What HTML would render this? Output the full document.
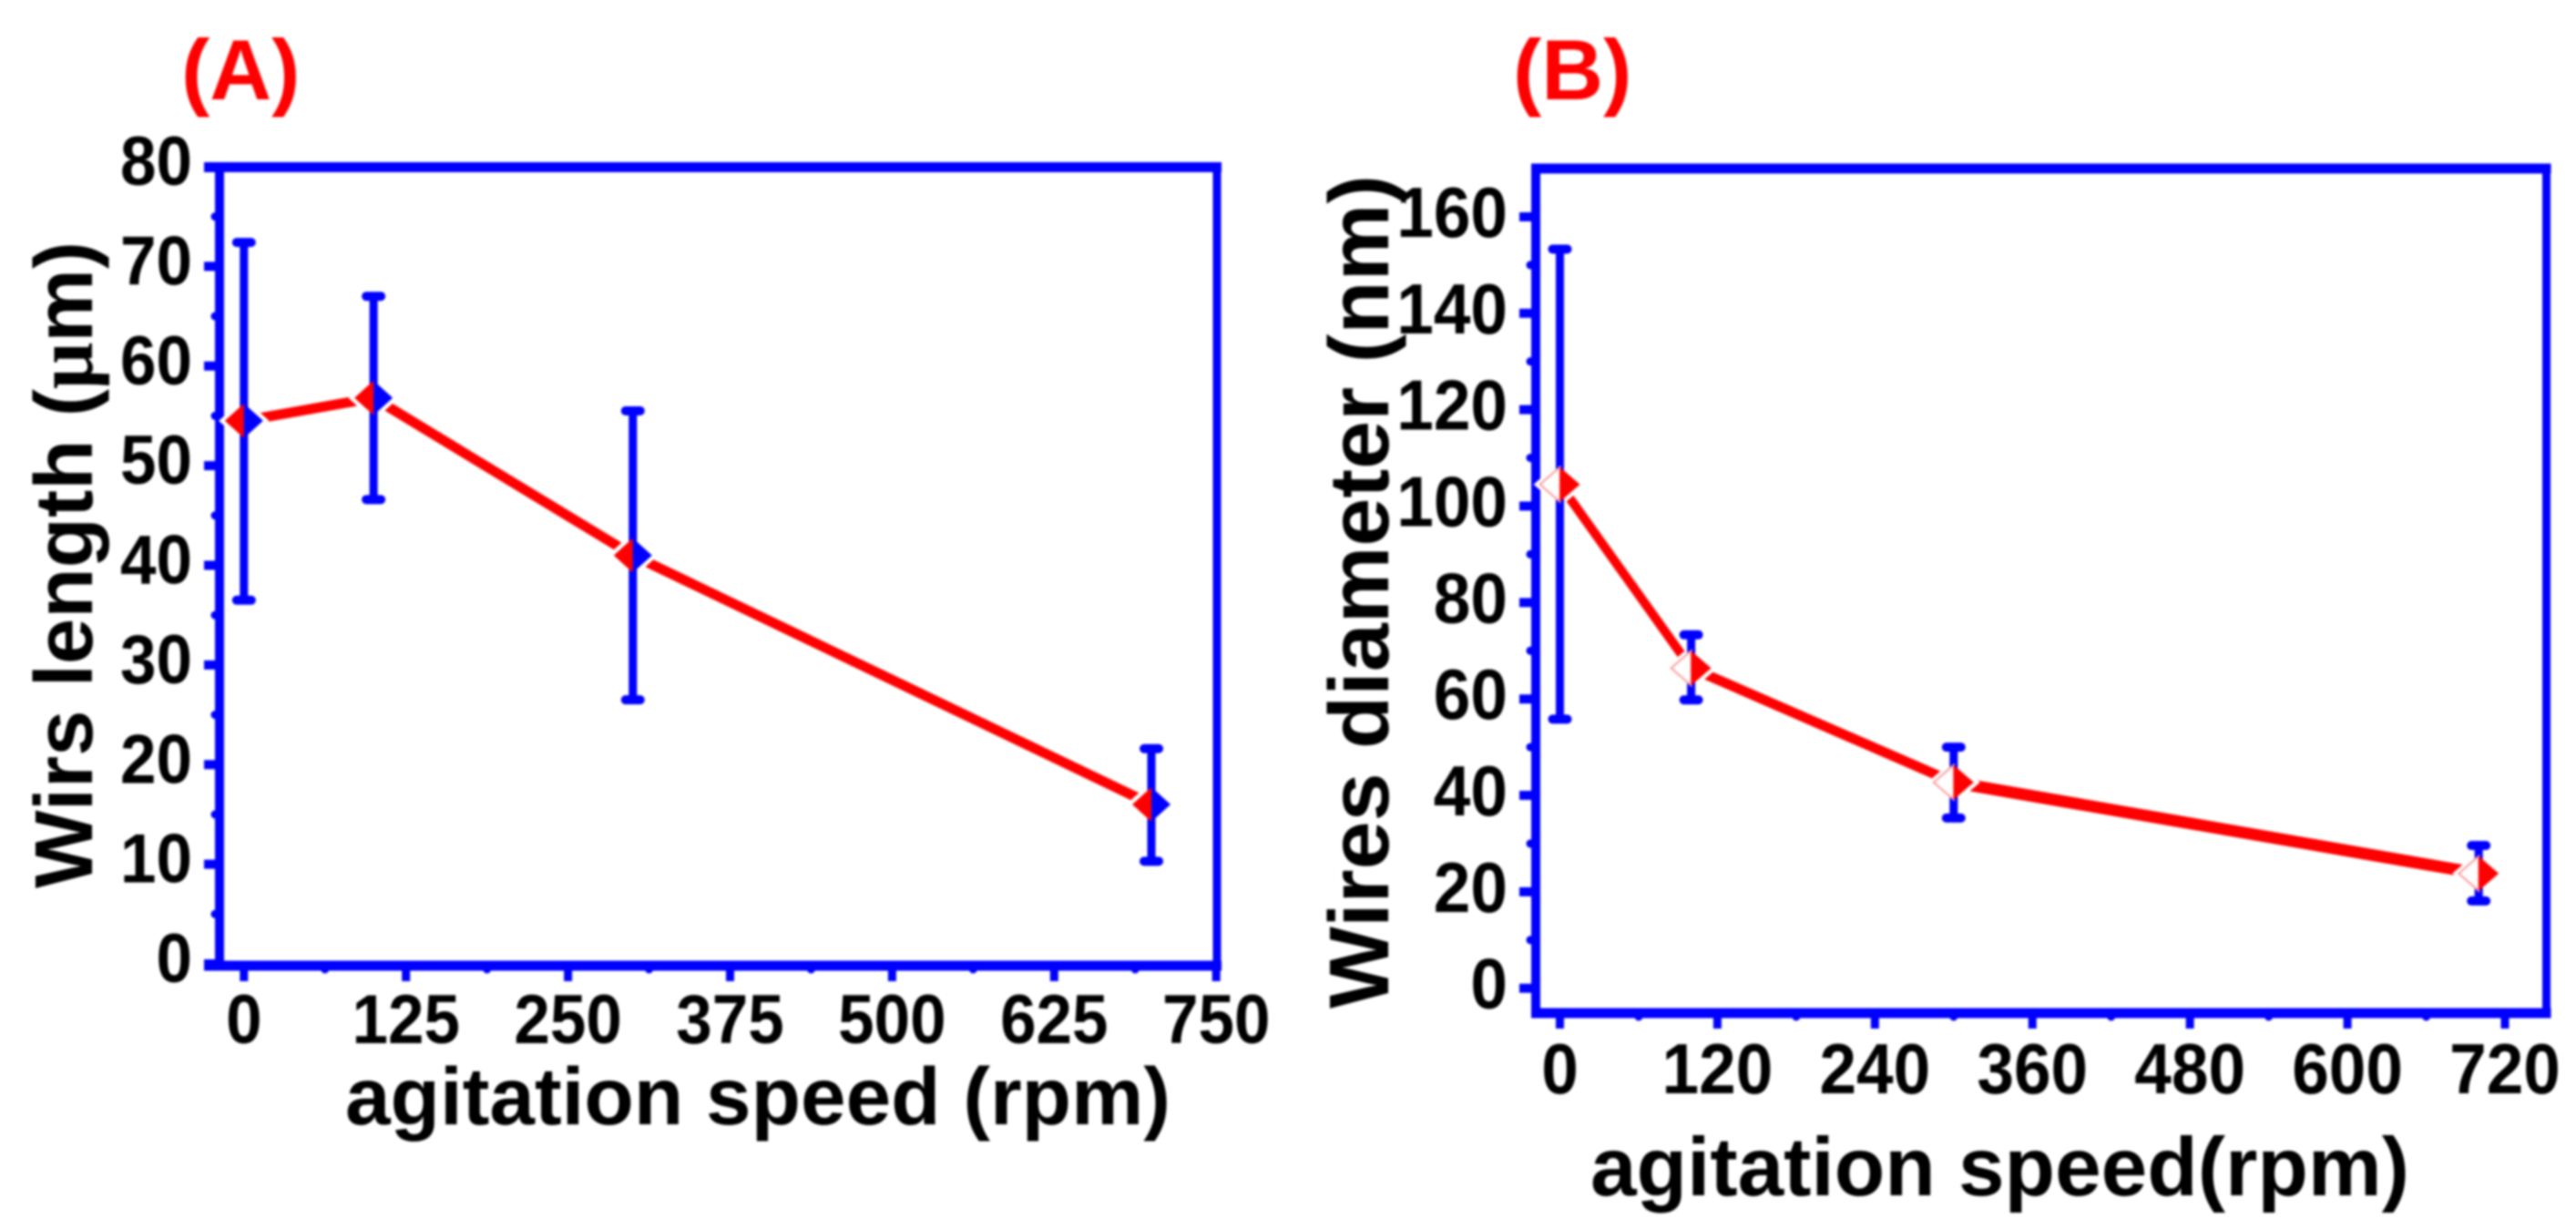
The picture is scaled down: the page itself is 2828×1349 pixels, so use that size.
<!DOCTYPE html>
<html lang="en">
<head>
<meta charset="utf-8">
<title>Wire length and diameter versus agitation speed</title>
<style>
html,body{margin:0;padding:0;background:#fff;}
svg{display:block;filter:blur(1.2px);}
text{font-family:"Liberation Sans",Arial,sans-serif;font-weight:bold;fill:#000;}
.panel-title{fill:#f00;font-size:94px;}
</style>
</head>
<body>
<svg id="figure" xmlns="http://www.w3.org/2000/svg" width="2828" height="1349" viewBox="0 0 2828 1349">
  <rect x="0" y="0" width="2828" height="1349" fill="#fff"/>
  <text class="panel-title" x="199" y="109">(A)</text>
  <text class="panel-title" x="1661" y="109">(B)</text>
  <text x="0" y="0" transform="translate(101,975) rotate(-90)" font-size="90" textLength="710" lengthAdjust="spacingAndGlyphs">Wirs length (<tspan font-family="Liberation Serif">μ</tspan>m)</text>
  <text x="379" y="1234" font-size="89" textLength="906" lengthAdjust="spacingAndGlyphs">agitation speed (rpm)</text>
  <text x="0" y="0" transform="translate(1524,1107) rotate(-90)" font-size="93" textLength="915" lengthAdjust="spacingAndGlyphs">Wires diameter (nm)</text>
  <text x="1746" y="1312" font-size="91" textLength="899" lengthAdjust="spacingAndGlyphs">agitation speed(rpm)</text>
</svg>
<script>
// Panel A data
var speedsA = [0, 100, 300, 700];
var lengthsA = [54.5, 56.8, 41, 16];
var lengthUpperA = [72.4, 67, 55.5, 21.6];
var lengthLowerA = [36.5, 46.6, 26.5, 10.3];
var xTicksA = [0, 125, 250, 375, 500, 625, 750];
var xMinorTicksA = [62.5, 187.5, 312.5, 437.5, 562.5, 687.5];
var yTicksA = [0, 10, 20, 30, 40, 50, 60, 70, 80];
var yMinorTicksA = [5, 15, 25, 35, 45, 55, 65, 75];

// Panel B data
var speedsB = [0, 100, 300, 700];
var diametersB = [104.5, 66.4, 42.7, 23.8];
var diameterUpperB = [153.3, 73.3, 50, 29.6];
var diameterLowerB = [55.8, 59.8, 35.3, 18.1];
var xTicksB = [0, 120, 240, 360, 480, 600, 720];
var xMinorTicksB = [60, 180, 300, 420, 540, 660];
var yTicksB = [0, 20, 40, 60, 80, 100, 120, 140, 160];
var yMinorTicksB = [10, 30, 50, 70, 90, 110, 130, 150];

var SVG_NS = 'http://www.w3.org/2000/svg';
var figure = document.getElementById('figure');

function linearScale(d0, d1, r0, r1) {
  return function (v) { return r0 + (v - d0) * (r1 - r0) / (d1 - d0); };
}
function make(tag, attrs) {
  var node = document.createElementNS(SVG_NS, tag);
  for (var key in attrs) { node.setAttribute(key, attrs[key]); }
  figure.appendChild(node);
  return node;
}
function hline(x1, x2, y, w) {
  return make('line', {x1: x1, x2: x2, y1: y, y2: y, stroke: '#00f', 'stroke-width': w});
}
function vline(x, y1, y2, w) {
  return make('line', {x1: x, x2: x, y1: y1, y2: y2, stroke: '#00f', 'stroke-width': w});
}
function tickLabel(x, y, txt, size, anchor) {
  var node = make('text', {transform: 'translate(' + x + ',' + y + ') scale(1,1.07)', 'font-size': size, 'text-anchor': anchor});
  node.textContent = txt;
  return node;
}

function drawPanel(o) {
  var el;
  var sx = o.sx, sy = o.sy;
  var i;

  // Spines
  el = hline(o.topStart, o.right + 5, o.top, o.hThick);
  
  
  el = hline(o.bottomStart, o.right + 5, o.bottom, o.hThick);
  
  
  el = vline(o.left, o.top, o.bottom, 10);
  
  
  el = vline(o.right, o.top, o.bottom, 9);
  
  

  // Y ticks
  o.yTicks.forEach(function (v) {
    var t = hline(o.yTickEnd, o.left, sy(v), 10);
    
    
    var l = tickLabel(o.yLabelX, sy(v) + o.yLabelDy, String(v), o.tickFont, 'end');
    
    
  });
  o.yMinor.forEach(function (v) {
    var t = hline(o.yTickEnd + 12, o.left, sy(v), 9);
    t.setAttribute('stroke-linecap', 'round');
    
    
  });

  // X ticks
  o.xTicks.forEach(function (v) {
    var t = vline(sx(v), o.bottom, o.xTickEnd, 9);
    
    
    var l = tickLabel(sx(v), o.xLabelY, String(v), o.tickFont, 'middle');
    
    
  });
  o.xMinor.forEach(function (v) {
    var t = vline(sx(v), o.bottom, o.xTickEnd - 13, 9);
    t.setAttribute('stroke-linecap', 'round');
    
    
  });

  // Connecting line
  for (i = 0; i < o.xs.length - 1; i++) {
    el = make('line', {x1: sx(o.xs[i]), y1: sy(o.ys[i]), x2: sx(o.xs[i + 1]), y2: sy(o.ys[i + 1]), stroke: '#f00', 'stroke-width': o.lineWidths[i], 'stroke-linecap': 'round'});
    
    
  }

  var hw = o.markerW, hh = o.markerH;
  for (i = 0; i < o.xs.length; i++) {
    var cx = sx(o.xs[i]), cy = sy(o.ys[i]);

    // White halo separating the line from the marker
    el = make('polygon', {points: (cx - hw) + ',' + cy + ' ' + cx + ',' + (cy - hh) + ' ' + (cx + hw) + ',' + cy + ' ' + cx + ',' + (cy + hh), fill: '#fff', stroke: '#fff', 'stroke-width': 9});
    
    

    // Error bar
    var yUp = sy(o.upper[i]), yLo = sy(o.lower[i]);
    el = vline(cx, yUp, yLo, 9);
    
    
    el = hline(cx - 8, cx + 8, yUp, 10);
    el.setAttribute('stroke-linecap', 'round');
    
    
    el = hline(cx - 8, cx + 8, yLo, 10);
    el.setAttribute('stroke-linecap', 'round');
    
    

    // Marker halves
    el = make('polygon', {points: (cx - hw) + ',' + cy + ' ' + cx + ',' + (cy - hh) + ' ' + cx + ',' + (cy + hh), fill: o.leftFill, stroke: o.leftStroke, 'stroke-width': o.leftStroke === 'none' ? 0 : 2});
    
    
    el = make('polygon', {points: cx + ',' + (cy - hh) + ' ' + (cx + hw) + ',' + cy + ' ' + cx + ',' + (cy + hh), fill: o.rightFill});
    
    
  }
}

drawPanel({
  sx: linearScale(0, 750, 267.8, 1335.2),
  sy: linearScale(0, 80, 1058, 183),
  xs: speedsA, ys: lengthsA, upper: lengthUpperA, lower: lengthLowerA,
  xTicks: xTicksA, xMinor: xMinorTicksA, yTicks: yTicksA, yMinor: yMinorTicksA,
  left: 241, right: 1336, top: 183.5, bottom: 1060, hThick: 11,
  topStart: 224, bottomStart: 224, yTickEnd: 224, xTickEnd: 1077,
  yLabelX: 211, yLabelDy: 20, xLabelY: 1145, tickFont: 71,
  lineWidths: [11, 11, 11], markerW: 21, markerH: 19,
  leftFill: '#f00', leftStroke: 'none', rightFill: '#00f'
});

drawPanel({
  sx: linearScale(0, 720, 1712.5, 2750),
  sy: linearScale(0, 160, 1084.7, 238),
  xs: speedsB, ys: diametersB, upper: diameterUpperB, lower: diameterLowerB,
  xTicks: xTicksB, xMinor: xMinorTicksB, yTicks: yTicksB, yMinor: yMinorTicksB,
  left: 1686, right: 2795.5, top: 185, bottom: 1112, hThick: 11,
  topStart: 1681, bottomStart: 1681, yTickEnd: 1668, xTickEnd: 1129,
  yLabelX: 1655, yLabelDy: 22, xLabelY: 1200, tickFont: 73,
  lineWidths: [10, 11, 13], markerW: 22, markerH: 19,
  leftFill: '#fff', leftStroke: '#ff9a9a', rightFill: '#f00'
});
</script>
</body>
</html>
